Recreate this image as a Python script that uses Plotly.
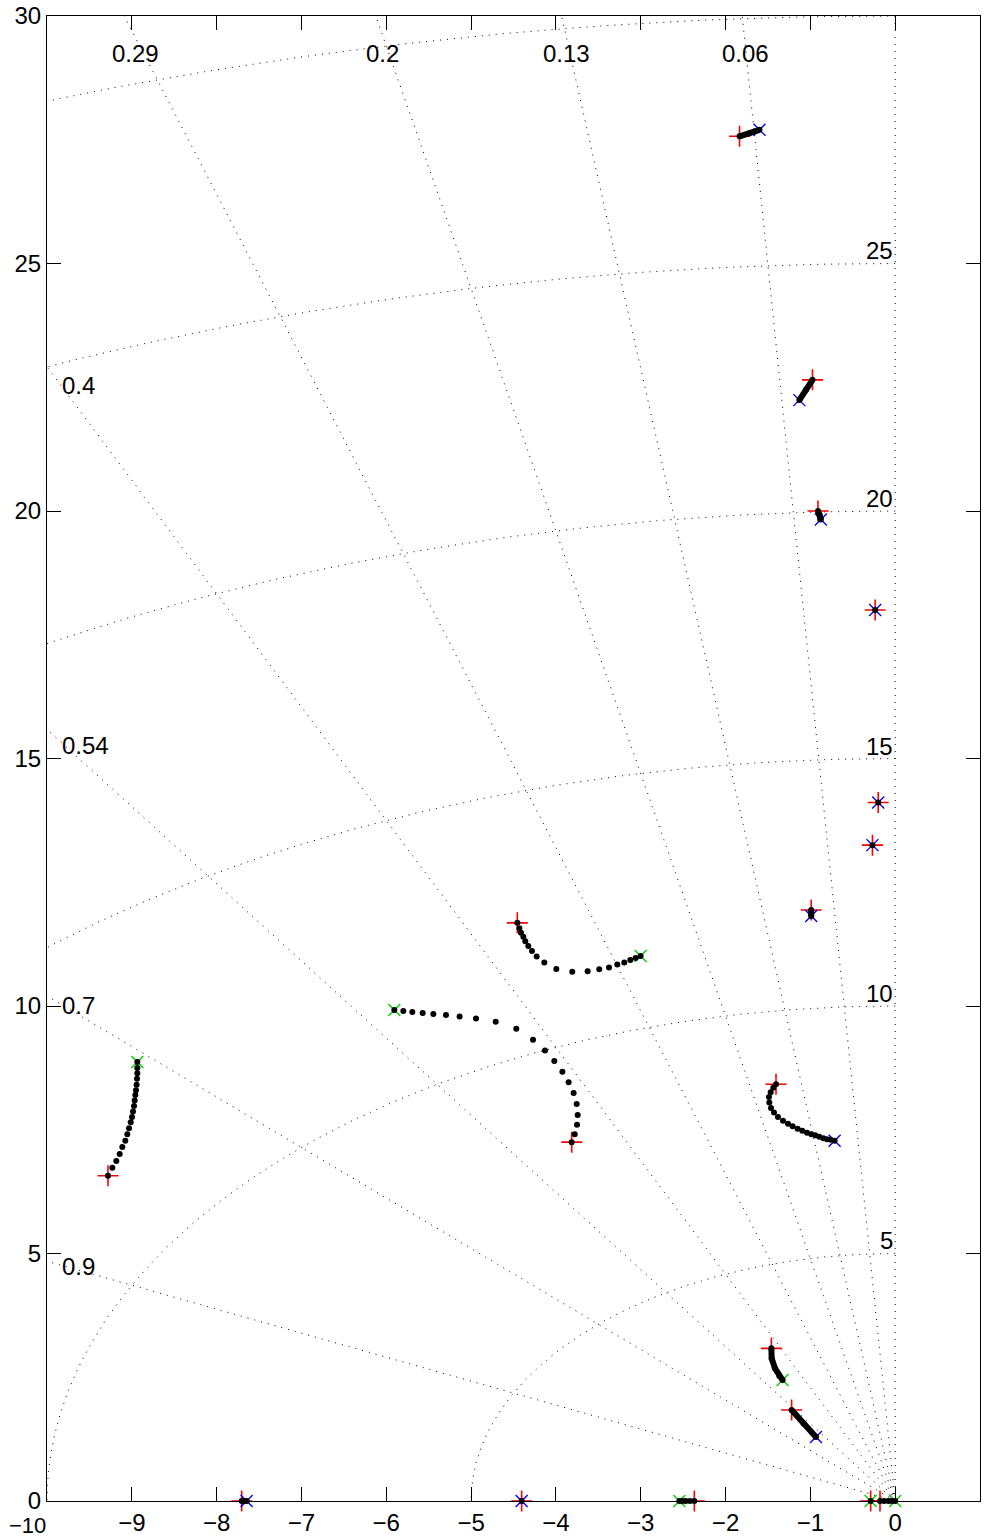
import numpy as np
import plotly.graph_objects as go

# ---- locus branches (real, imag) ----
# sparse branches drawn as individual dots
branch_e_re = [-4.455, -4.431, -4.412, -4.384, -4.361, -4.325, -4.282, -4.227, -4.137, -3.995,
               -3.807, -3.626, -3.489, -3.374, -3.276, -3.194, -3.123, -3.060, -3.001]
branch_e_im = [11.68, 11.57, 11.48, 11.40, 11.31, 11.21, 11.11, 11.00, 10.88, 10.75,
               10.69, 10.70, 10.74, 10.78, 10.84, 10.88, 10.93, 10.97, 11.01]

branch_f_re = [-5.905, -5.799, -5.693, -5.571, -5.445, -5.296, -5.135, -4.942, -4.710, -4.467,
               -4.270, -4.129, -4.019, -3.924, -3.850, -3.791, -3.755, -3.743, -3.751, -3.778, -3.814]
branch_f_im = [9.92, 9.90, 9.88, 9.86, 9.84, 9.82, 9.79, 9.75, 9.68, 9.54,
               9.32, 9.10, 8.89, 8.67, 8.46, 8.24, 8.02, 7.80, 7.60, 7.41, 7.25]

branch_g_re = [-8.935, -8.935, -8.935, -8.939, -8.943, -8.951, -8.959, -8.966, -8.974, -8.986,
               -8.998, -9.013, -9.033, -9.053, -9.077, -9.112, -9.143, -9.183, -9.230, -9.281]
branch_g_im = [8.87, 8.75, 8.64, 8.53, 8.41, 8.30, 8.20, 8.09, 7.98, 7.87,
               7.76, 7.65, 7.53, 7.41, 7.28, 7.15, 7.01, 6.87, 6.73, 6.57]

branch_h_re = [-1.405, -1.437, -1.468, -1.488, -1.484, -1.464, -1.429, -1.382, -1.323, -1.264,
               -1.209, -1.150, -1.095, -1.040, -0.989, -0.942, -0.895, -0.847, -0.804, -0.761, -0.714]
branch_h_im = [8.42, 8.35, 8.26, 8.16, 8.05, 7.94, 7.85, 7.76, 7.68, 7.62,
               7.57, 7.52, 7.48, 7.44, 7.41, 7.39, 7.36, 7.33, 7.31, 7.30, 7.28]

# dense branches drawn as thick strokes through their sampled points
dense_branches = {
    "a": ([-1.835, -1.72, -1.60], [27.57, 27.63, 27.70]),
    "b": ([-0.975, -1.05, -1.13], [22.65, 22.45, 22.24]),
    "c": ([-0.91, -0.89, -0.876], [20.00, 19.92, 19.83]),
    "d": ([-0.99, -0.99], [11.94, 11.82]),
    "i": ([-1.460, -1.456, -1.417, -1.366, -1.327], [3.084, 2.88, 2.68, 2.525, 2.444]),
    "j": ([-1.221, -1.08, -0.934], [1.838, 1.565, 1.293]),
}
# dense branches lying on the real axis
axis_branches = {
    "k": [-7.705, -7.675, -7.646],
    "l": [-2.368, -2.42, -2.47, -2.51, -2.545],
    "m": [-0.179, -0.13, -0.08, -0.04, 0.0],
}

# single points where start and end coincide
static_re = [-0.236, -0.200, -0.268, -4.404, -0.289]
static_im = [18.00, 14.11, 13.25, 0.0, 0.0]

# start markers (red +)
start_re = [-1.835, -0.975, -0.91, -0.236, -0.200, -0.268, -0.99, -4.455, -3.814, -9.281,
            -1.405, -1.460, -1.221, -7.705, -4.404, -2.368, -0.289, -0.179]
start_im = [27.57, 22.65, 20.00, 18.00, 14.11, 13.25, 11.94, 11.68, 7.25, 6.57,
            8.42, 3.084, 1.838, 0.0, 0.0, 0.0, 0.0, 0.0]

# end markers (blue x)
blue_re = [-1.60, -1.13, -0.876, -0.236, -0.200, -0.268, -0.99, -0.714, -0.934, -7.646, -4.404]
blue_im = [27.70, 22.24, 19.83, 18.00, 14.11, 13.25, 11.82, 7.28, 1.293, 0.0, 0.0]

# end markers (green x)
green_re = [-3.001, -5.905, -8.935, -1.327, -2.545, -0.289, 0.0]
green_im = [11.01, 9.92, 8.87, 2.444, 0.0, 0.0, 0.0]

# ---- s-plane grid ----
zeta_values = [0.06, 0.13, 0.2, 0.29, 0.4, 0.54, 0.7, 0.9]
wn_values = [5, 10, 15, 20, 25, 30]

top_zeta_labels = ["0.29", "0.2", "0.13", "0.06"]
top_zeta_x = [-8.96, -6.04, -3.87, -1.77]
top_zeta_y = 29.25
left_zeta_labels = ["0.4", "0.54", "0.7", "0.9"]
left_zeta_y = [22.53, 15.27, 10.02, 4.73]
wn_labels = ["25", "20", "15", "10", "5"]
wn_label_y = [25.27, 20.26, 15.25, 10.26, 5.27]

x_ticks = list(range(-10, 2))
x_tick_text = [""] + [str(v).replace("-", "\u2212") for v in x_ticks[1:]]
y_ticks = [0, 5, 10, 15, 20, 25, 30]

FONT = "Liberation Sans, Arial, Helvetica, sans-serif"
FS = 24
GRID_LINE = dict(color="black", width=1, dash="1px,6px")

fig = go.Figure()

# damping-ratio rays from the origin
for z in zeta_values:
    r = np.array([0.0, 60.0])
    fig.add_trace(go.Scatter(x=-z * r, y=np.sqrt(1 - z * z) * r, mode="lines",
                             line=GRID_LINE, hoverinfo="skip", showlegend=False))
# imaginary axis (zeta = 0)
fig.add_trace(go.Scatter(x=[0, 0], y=[0, 30], mode="lines", line=GRID_LINE,
                         hoverinfo="skip", showlegend=False))
# natural-frequency arcs
theta = np.linspace(np.pi / 2, np.pi, 200)
for wn in wn_values:
    fig.add_trace(go.Scatter(x=wn * np.cos(theta), y=wn * np.sin(theta), mode="lines",
                             line=GRID_LINE, hoverinfo="skip", showlegend=False))

# start / end markers
fig.add_trace(go.Scatter(x=start_re, y=start_im, mode="markers", showlegend=False,
                         cliponaxis=False,
                         marker=dict(symbol="cross-thin", size=15,
                                     line=dict(color="red", width=1.6))))
fig.add_trace(go.Scatter(x=blue_re, y=blue_im, mode="markers", showlegend=False,
                         cliponaxis=False,
                         marker=dict(symbol="x-thin", size=12,
                                     line=dict(color="blue", width=1.4))))
fig.add_trace(go.Scatter(x=green_re, y=green_im, mode="markers", showlegend=False,
                         cliponaxis=False,
                         marker=dict(symbol="x-thin", size=12,
                                     line=dict(color="rgb(0,210,0)", width=1.4))))

# dense branches
for name, (bx, by) in dense_branches.items():
    fig.add_trace(go.Scatter(x=bx, y=by, mode="lines+markers", showlegend=False,
                             line=dict(color="black", width=6),
                             marker=dict(color="black", size=6)))
for name, bx in axis_branches.items():
    fig.add_trace(go.Scatter(x=bx, y=[0.0] * len(bx), mode="markers", showlegend=False,
                             cliponaxis=False, marker=dict(color="black", size=6)))

# sparse dotted branches
for bx, by in [(branch_e_re, branch_e_im), (branch_f_re, branch_f_im),
               (branch_g_re, branch_g_im), (branch_h_re, branch_h_im),
               (static_re, static_im)]:
    fig.add_trace(go.Scatter(x=bx, y=by, mode="markers", showlegend=False,
                             cliponaxis=False, marker=dict(color="black", size=6)))

# grid labels
ann = []
for t, x in zip(top_zeta_labels, top_zeta_x):
    ann.append(dict(x=x, y=top_zeta_y, text=t, xanchor="center", yanchor="middle"))
for t, y in zip(left_zeta_labels, left_zeta_y):
    ann.append(dict(x=-9.85, y=y, text=t, xanchor="left", yanchor="middle"))
for t, y in zip(wn_labels, wn_label_y):
    ann.append(dict(x=0.0, y=y, text=t, xanchor="right", yanchor="middle"))
for a in ann:
    a.update(showarrow=False, font=dict(family=FONT, size=FS, color="black"))
# leftmost x tick label, set left of its tick so it stays clear of the y label
ann.append(dict(x=0.0, xref="paper", xanchor="right", xshift=0,
                y=0.0, yref="paper", yanchor="middle", yshift=-24,
                text="\u221210", showarrow=False, borderpad=0,
                font=dict(family=FONT, size=FS - 2, color="black")))

axis_common = dict(showgrid=False, zeroline=False, showline=True, linecolor="black",
                   linewidth=1.2, mirror="ticks", ticks="inside", ticklen=14,
                   tickwidth=1.2, tickcolor="black", automargin=False,
                   tickfont=dict(family=FONT, size=FS, color="black"))

fig.update_layout(
    width=984, height=1539,
    margin=dict(l=47, r=4, t=16, b=38),
    paper_bgcolor="white", plot_bgcolor="white",
    annotations=ann,
    xaxis=dict(range=[-10, 1], tickvals=x_ticks, ticktext=x_tick_text, **axis_common),
    yaxis=dict(range=[0, 30], tickvals=y_ticks, **axis_common),
)

fig.write_html("out.html")
